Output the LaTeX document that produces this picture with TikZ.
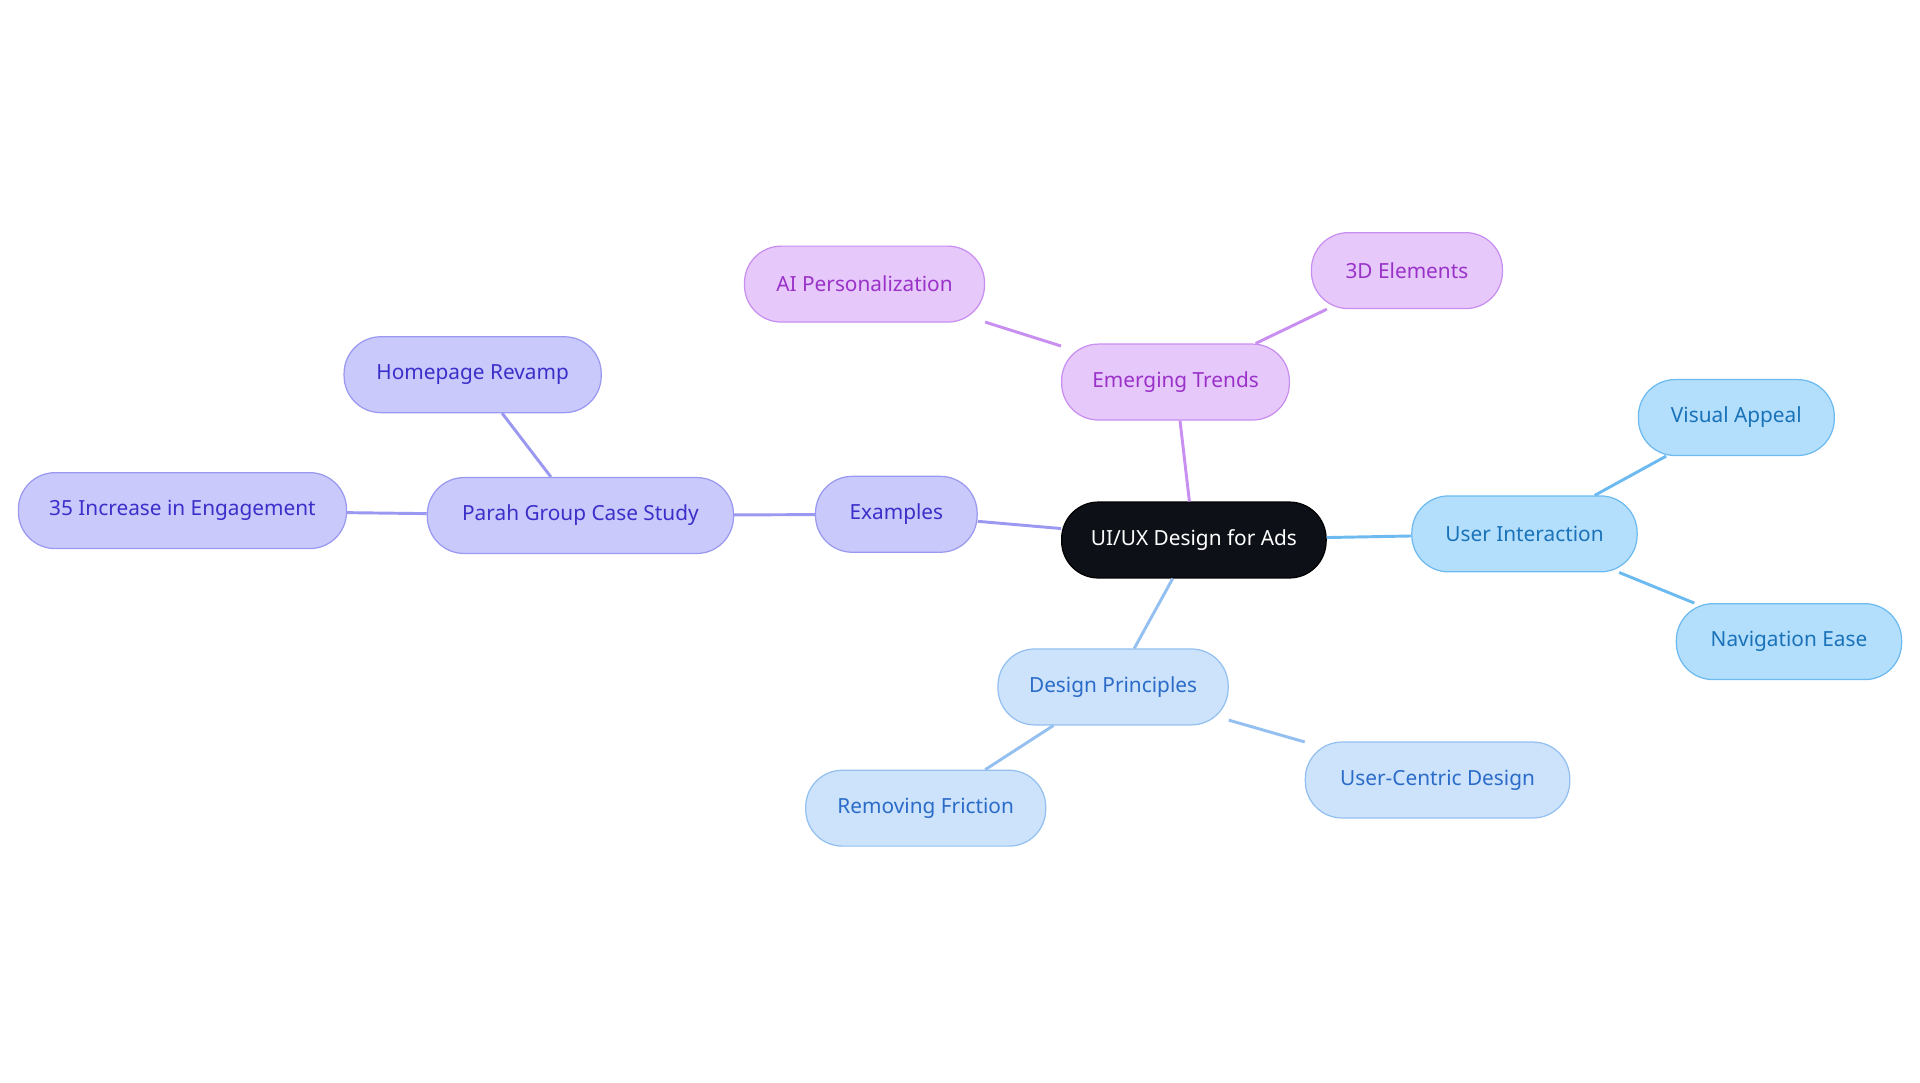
\documentclass[tikz,border=0pt]{standalone}
\usepackage{fontspec}
\setmainfont{Noto Sans}
\definecolor{pf}{HTML}{C9C9FB}\definecolor{ps}{HTML}{9A98F0}\definecolor{pt}{HTML}{3B2FC9}
\definecolor{mf}{HTML}{E6C8FB}\definecolor{ms}{HTML}{C88EF0}\definecolor{mt}{HTML}{9A32C8}
\definecolor{bf}{HTML}{B3DFFC}\definecolor{bs}{HTML}{6CBAF0}\definecolor{bt}{HTML}{1A72B8}
\definecolor{df}{HTML}{CDE2FB}\definecolor{ds}{HTML}{93C0F0}\definecolor{dt}{HTML}{2A6CC8}
\definecolor{cf}{HTML}{0D1117}
\tikzset{box/.style={rounded corners=15pt,minimum height=31pt,inner xsep=0pt,font=\fontsize{8.5}{10}\selectfont,line width=0.5pt},
 pb/.style={box,fill=pf,draw=ps,text=pt},mb/.style={box,fill=mf,draw=ms,text=mt},
 bb/.style={box,fill=bf,draw=bs,text=bt},db/.style={box,fill=df,draw=ds,text=dt},
 e/.style={line width=1.2pt}}
\begin{document}
\begin{tikzpicture}[x=0.5pt,y=-0.5pt]
\useasboundingbox (0,0) rectangle (1568,884);
\node[box,fill=cf,draw=black,text=white,minimum width=108pt] (c) at (975,441) {UI/UX Design for Ads};
\node[pb,minimum width=66pt] (ex) at (732,420) {Examples};
\node[pb,minimum width=125pt] (pg) at (474,421) {Parah Group Case Study};
\node[pb,minimum width=105pt] (hr) at (386,306) {Homepage Revamp};
\node[pb,minimum width=134pt] (inc) at (149,417) {35 Increase in Engagement};
\node[mb,minimum width=93pt] (et) at (960,312) {Emerging Trends};
\node[mb,minimum width=98pt] (ai) at (706,232) {AI Personalization};
\node[mb,minimum width=78pt] (td) at (1149,221) {3D Elements};
\node[bb,minimum width=92pt] (ui) at (1245,436) {User Interaction};
\node[bb,minimum width=80pt] (va) at (1418,341) {Visual Appeal};
\node[bb,minimum width=92pt] (ne) at (1461,524) {Navigation Ease};
\node[db,minimum width=94pt] (dp) at (909,561) {Design Principles};
\node[db,minimum width=98pt] (rf) at (756,660) {Removing Friction};
\node[db,minimum width=108pt] (uc) at (1174,637) {User-Centric Design};
\draw[e,ps] (c)--(ex) (ex)--(pg) (pg)--(hr) (pg)--(inc);
\draw[e,ms] (c)--(et) (et)--(ai) (et)--(td);
\draw[e,bs] (c)--(ui) (ui)--(va) (ui)--(ne);
\draw[e,ds] (c)--(dp) (dp)--(rf) (dp)--(uc);
\end{tikzpicture}
\end{document}
